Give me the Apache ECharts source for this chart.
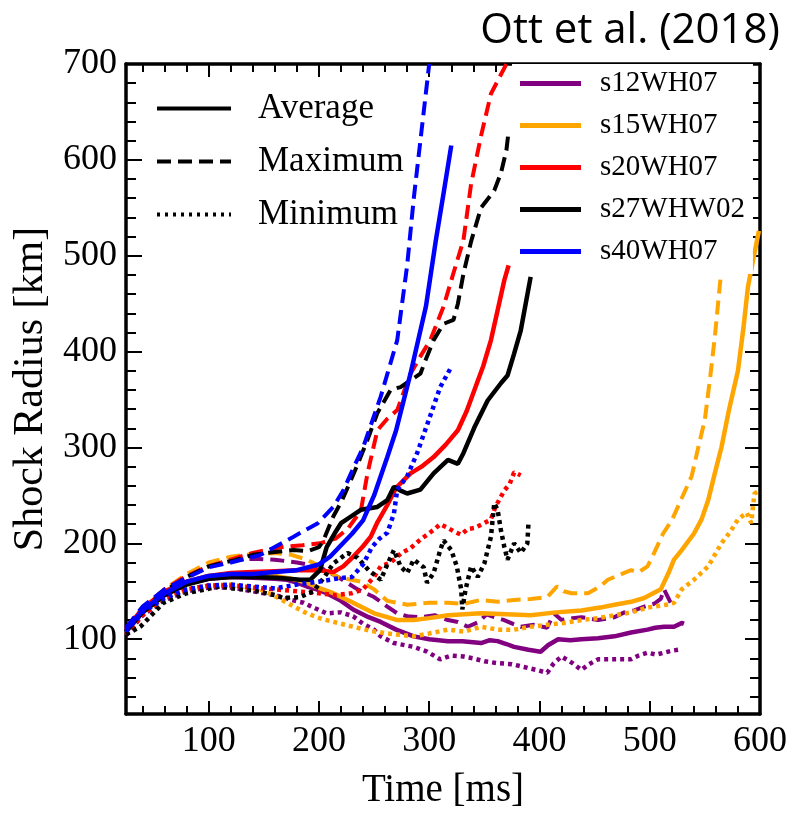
<!DOCTYPE html>
<html>
<head>
<meta charset="utf-8">
<script src="https://cdn.jsdelivr.net/npm/echarts@6/dist/echarts.min.js"></script>
<style>html,body{margin:0;padding:0;background:#fff}#c{width:794px;height:815px}</style>
</head>
<body>
<div id="c"></div>
<script>
// ---- tick values ----
const xMajor = [100, 200, 300, 400, 500, 600];
const xMinor = [40, 60, 80, 120, 140, 160, 180, 220, 240, 260, 280, 320, 340, 360, 380, 420, 440, 460, 480, 520, 540, 560, 580];
const yMajor = [100, 200, 300, 400, 500, 600, 700];
const yMinor = [40, 60, 80, 120, 140, 160, 180, 220, 240, 260, 280, 320, 340, 360, 380, 420, 440, 460, 480, 520, 540, 560, 580, 620, 640, 660, 680];

// ---- model names / styles ----
const modelNames = ['s12WH07', 's15WH07', 's20WH07', 's27WHW02', 's40WH07'];
const modelColors = ['#800080', '#FFA500', '#FF0000', '#000000', '#0000FF'];
const statNames = ['Average', 'Maximum', 'Minimum'];

// ---- s12WH07 (purple) ----
const s12_avg = [[25,110],[40,131],[60,148],[80,158],[100,163],[120,165],[140,164],[160,163],[171,162],[180,159],[189,155],[198,152],[207,148],[220,140],[231,131],[245,123],[256,118],[270,110],[286,103],[300,100],[317,98],[330,98],[347,96],[355,99],[362,98],[370,95],[377,92],[390,89],[401,87],[408,94],[417,100],[428,99],[438,100],[453,101],[468,103],[483,107],[498,110],[505,112],[513,113],[522,113],[529,117],[531,116]];
const s12_max = [[25,110],[40,132],[60,150],[80,165],[100,176],[120,182],[140,184],[160,183],[180,180],[199,176],[217,165],[235,152],[250,144],[262,134],[271,127],[280,124],[292,123],[305,125],[317,120],[326,118],[335,113],[345,118],[352,126],[359,123],[368,120],[376,116],[383,113],[395,115],[407,112],[413,127],[420,120],[430,122],[438,123],[453,120],[468,123],[477,128],[486,130],[495,134],[504,137],[510,142],[513,152],[516,145],[519,138]];
const s12_min = [[25,104],[40,125],[60,141],[80,150],[100,154],[120,154],[140,150],[160,146],[175,141],[186,138],[197,132],[207,127],[220,128],[231,124],[240,116],[250,110],[256,103],[268,96],[286,92],[298,87],[310,79],[320,83],[331,82],[340,80],[350,77],[362,75],[375,74],[386,71],[397,68],[407,65],[413,75],[420,82],[430,75],[438,68],[445,74],[453,79],[468,79],[483,79],[490,83],[498,86],[506,84],[513,86],[520,88],[526,89]];

// ---- s15WH07 (orange) ----
const s15_avg = [[25,110],[40,130],[60,148],[80,158],[100,164],[120,166],[140,167],[160,166],[175,163],[189,159],[201,153],[213,148],[231,138],[250,127],[262,123],[271,120],[286,120],[300,122],[317,125],[347,127],[370,126],[392,125],[415,128],[438,130],[455,133],[468,136],[483,139],[495,143],[510,152],[517,169],[522,183],[529,193],[540,210],[547,225],[553,245],[559,273],[565,300],[572,340],[580,380],[585,425],[589,467],[594,497],[599,526]];
const s15_max = [[25,110],[40,132],[60,152],[80,168],[100,180],[120,186],[140,189],[160,190],[175,188],[189,183],[201,176],[217,165],[238,160],[250,152],[262,140],[280,136],[300,138],[317,138],[332,137],[347,141],[362,139],[377,141],[392,142],[407,144],[416,155],[422,150],[429,148],[444,148],[455,155],[462,162],[468,165],[483,172],[490,170],[498,176],[504,190],[512,210],[520,224],[529,247],[538,270],[545,305],[550,329],[555,375],[559,415],[564,474],[566,495]];
const s15_min = [[25,105],[40,127],[60,143],[80,152],[100,156],[120,157],[147,152],[160,145],[171,138],[189,127],[203,121],[217,117],[231,113],[246,109],[262,106],[286,103],[300,106],[317,110],[332,108],[347,113],[362,110],[377,110],[392,113],[407,115],[422,117],[438,120],[453,122],[468,125],[483,128],[498,133],[515,136],[522,138],[529,152],[540,162],[553,176],[565,200],[573,212],[580,225],[588,232],[592,221],[595,252],[600,255]];

// ---- s20WH07 (red) ----
const s20_avg = [[25,110],[40,132],[60,150],[80,160],[100,166],[120,169],[140,170],[160,171],[180,172],[200,172],[213,170],[222,176],[231,186],[240,197],[247,207],[253,222],[262,240],[270,258],[283,273],[293,280],[304,290],[315,303],[326,318],[334,338],[341,360],[349,385],[356,412],[362,443],[368,474],[372,490]];
const s20_max = [[25,112],[40,133],[60,152],[80,166],[100,176],[120,183],[140,190],[165,196],[185,198],[201,200],[215,205],[226,215],[238,234],[244,273],[253,318],[262,330],[271,339],[283,377],[292,395],[301,412],[313,447],[322,482],[331,516],[338,575],[347,625],[356,669],[370,700]];
const s20_min = [[25,105],[40,125],[60,143],[80,152],[100,156],[120,156],[140,154],[160,152],[180,150],[200,148],[215,146],[230,148],[240,152],[250,165],[256,176],[265,180],[275,190],[283,195],[292,204],[304,214],[310,220],[317,216],[323,212],[329,209],[335,215],[341,216],[348,220],[356,225],[360,238],[368,255],[373,262],[377,274],[383,271]];

// ---- s27WHW02 (black) ----
const s27_avg = [[25,108],[40,128],[60,146],[80,157],[100,163],[120,165],[140,165],[162,164],[183,162],[192,162],[201,172],[207,196],[214,210],[220,221],[229,228],[238,235],[253,238],[262,245],[268,259],[274,255],[280,252],[292,256],[304,273],[317,287],[326,283],[331,294],[341,321],[353,349],[365,367],[371,375],[377,398],[383,422],[392,478]];
const s27_max = [[25,108],[40,130],[60,150],[80,165],[100,176],[122,182],[140,188],[160,191],[177,193],[190,192],[200,196],[204,203],[213,228],[221,245],[229,266],[236,285],[244,308],[253,336],[265,360],[274,363],[283,370],[292,377],[298,395],[304,412],[313,429],[322,433],[326,450],[331,481],[338,515],[347,550],[359,568],[365,586],[370,610],[372,630]];
const s27_min = [[25,105],[38,113],[59,138],[80,148],[110,155],[122,153],[140,151],[160,146],[168,143],[183,144],[195,150],[205,165],[213,179],[226,190],[235,185],[245,172],[256,162],[262,178],[268,193],[274,176],[280,169],[286,183],[295,175],[298,159],[304,169],[310,193],[313,203],[320,193],[325,176],[329,152],[330,131],[333,152],[338,176],[344,165],[350,179],[356,207],[359,242],[362,235],[365,214],[368,197],[371,183],[377,200],[383,190],[389,200],[390,221]];

// ---- s40WH07 (blue) ----
const s40_avg = [[25,110],[40,130],[60,148],[80,160],[100,166],[120,168],[140,168],[160,170],[180,172],[200,178],[210,186],[220,198],[230,210],[240,224],[250,250],[262,290],[270,318],[283,377],[297,447],[306,516],[313,565],[320,615]];
const s40_max = [[25,112],[40,134],[60,152],[80,164],[100,175],[120,180],[147,188],[177,207],[199,221],[213,238],[222,255],[231,278],[240,300],[256,353],[271,412],[280,490],[286,560],[293,630],[300,700]];
const s40_min = [[25,108],[40,128],[60,143],[80,152],[100,156],[120,157],[140,155],[160,153],[180,157],[200,160],[215,163],[230,165],[240,178],[248,196],[255,205],[262,211],[268,231],[271,256],[280,270],[289,294],[300,330],[310,363],[320,384]];

const modelData = [
  [s12_avg, s12_max, s12_min],
  [s15_avg, s15_max, s15_min],
  [s20_avg, s20_max, s20_min],
  [s27_avg, s27_max, s27_min],
  [s40_avg, s40_max, s40_min]
];

const FONT = 'Liberation Serif';
const lineTypes = ['solid', [14, 7], [4, 4]];
const lineWidths = [4.5, 4, 4.5];

const series = [];
// dummy series for the line-style legend
statNames.forEach((s, i) => {
  series.push({
    name: s, type: 'line', data: [], symbol: 'none', symbolSize: 0,
    xAxisIndex: 0, yAxisIndex: 0,
    itemStyle: { color: '#000' },
    lineStyle: { color: '#000', width: 4, type: i === 2 ? [3, 5] : lineTypes[i] }
  });
});
modelNames.forEach((m, mi) => {
  modelData[mi].forEach((d, si) => {
    series.push({
      name: m, type: 'line', data: d, symbol: 'none', showSymbol: false,
      xAxisIndex: 0, yAxisIndex: 0, z: 2,
      itemStyle: { color: modelColors[mi] },
      lineStyle: { color: modelColors[mi], width: lineWidths[si], type: lineTypes[si], cap: 'butt' }
    });
  });
});

const lab = { fontFamily: FONT, fontSize: 36, color: '#000' };
function xAx(pos, vals, len, showLine, labels) {
  return {
    type: 'value', min: 25, max: 600, position: pos,
    axisLine: { show: showLine, onZero: false, lineStyle: { color: '#000', width: 3.5 } },
    axisTick: { show: true, inside: true, length: len, customValues: vals, lineStyle: { color: '#000', width: 2 } },
    axisLabel: labels ? Object.assign({ show: true, customValues: vals, margin: 10 }, lab) : { show: false },
    splitLine: { show: false }
  };
}
function yAx(pos, vals, len, showLine, labels) {
  return {
    type: 'value', min: 22, max: 700, position: pos,
    axisLine: { show: showLine, onZero: false, lineStyle: { color: '#000', width: 3.5 } },
    axisTick: { show: true, inside: true, length: len, customValues: vals, lineStyle: { color: '#000', width: 2 } },
    axisLabel: labels ? Object.assign({ show: true, customValues: vals, margin: 9 }, lab) : { show: false },
    splitLine: { show: false }
  };
}

const xAxes = [
  xAx('bottom', xMajor, 13, true, true),
  xAx('bottom', xMinor, 8, false, false),
  xAx('top', xMajor, 13, true, false),
  xAx('top', xMinor, 8, false, false)
];
Object.assign(xAxes[0], { name: 'Time [ms]', nameLocation: 'middle', nameGap: 57, nameTextStyle: { fontFamily: FONT, fontSize: 39, color: '#000' } });
const yAxes = [
  yAx('left', yMajor, 16, true, true),
  yAx('left', yMinor, 10, false, false),
  yAx('right', yMajor, 15, true, false),
  yAx('right', yMinor, 10, false, false)
];
Object.assign(yAxes[0], { name: 'Shock Radius [km]', nameLocation: 'middle', nameGap: 68, nameTextStyle: { fontFamily: FONT, fontSize: 42, color: '#000' } });

const chart = echarts.init(document.getElementById('c'), null, { renderer: 'canvas' });
chart.setOption({
  animation: false,
  backgroundColor: '#fff',
  grid: { left: 126, right: 34, top: 64, bottom: 101, containLabel: false },
  xAxis: xAxes,
  yAxis: yAxes,
  legend: [
    {
      data: statNames, orient: 'vertical', left: 155, top: 91, padding: 0,
      itemWidth: 74, itemHeight: 20, itemGap: 18, selectedMode: false, z: 10,
      itemStyle: { opacity: 0 },
      lineStyle: { width: 4 },
      textStyle: { fontFamily: FONT, fontSize: 35, color: '#000', lineHeight: 34, padding: [0, 0, 0, 22] }
    },
    {
      data: modelNames.map(n => ({ name: n, icon: 'rect' })), orient: 'vertical', left: 512, top: 64,
      padding: [5, 8, 8, 8], backgroundColor: '#fff', itemWidth: 61, itemHeight: 5, itemGap: 13,
      selectedMode: false, z: 10,
      textStyle: { fontFamily: FONT, fontSize: 29, color: '#000', lineHeight: 29, padding: [0, 0, 0, 14] }
    }
  ],
  graphic: [{
    type: 'text', right: 14, top: 10, z: 20,
    style: { text: 'Ott et al. (2018)', font: '42px "Open Sans"', fill: '#000' }
  }],
  series: series
});
</script>
</body>
</html>
